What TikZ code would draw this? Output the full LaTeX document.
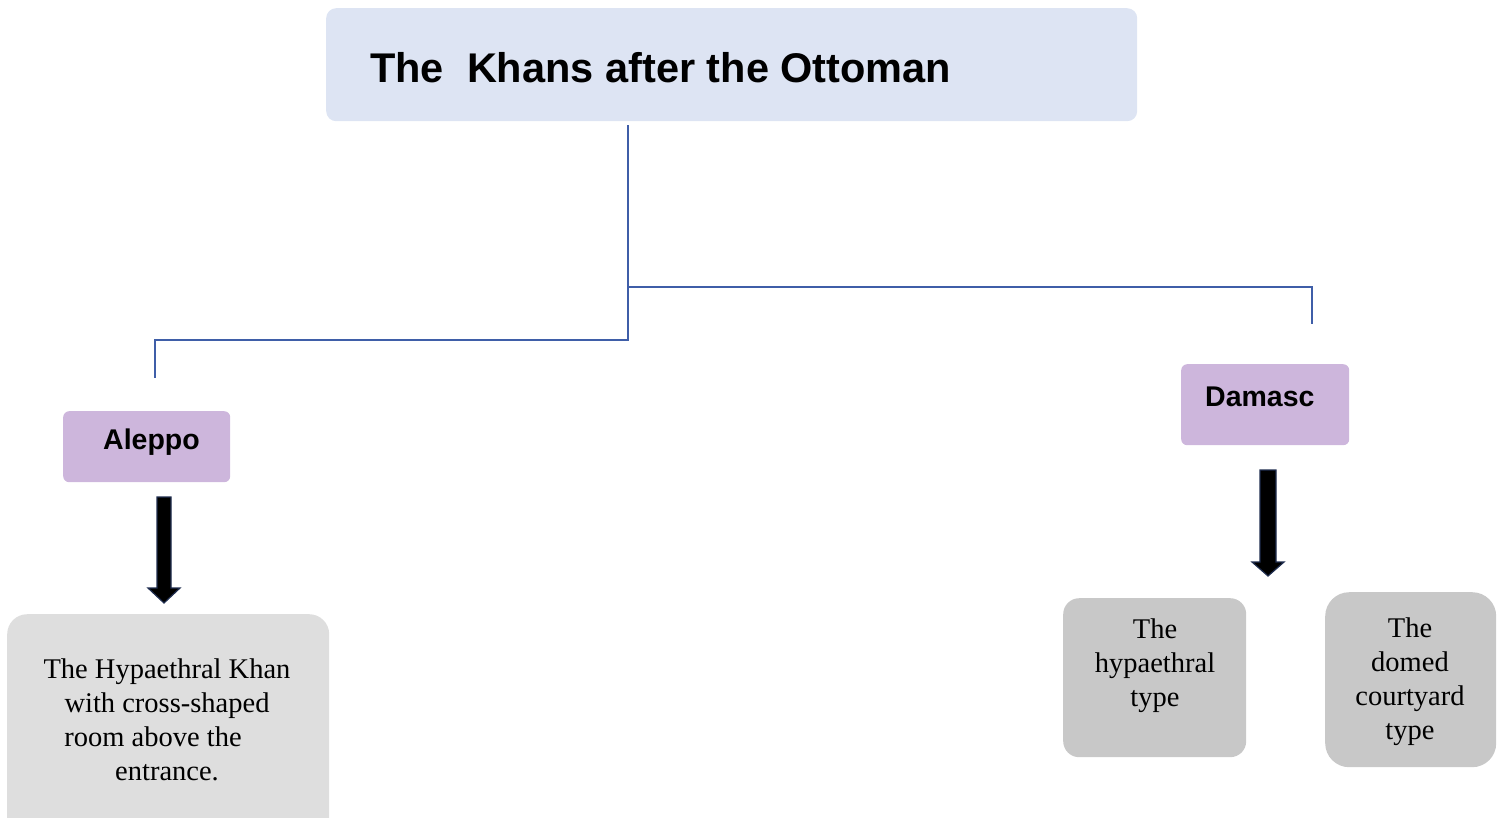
\documentclass[tikz,border=0pt]{standalone}
\usepackage{fontspec}
\setmainfont{Liberation Serif}
\newfontfamily\headfont{Liberation Sans}
\begin{document}
\begin{tikzpicture}[x=1pt,y=-1pt,
  box/.style={draw=none,rectangle,anchor=north west,inner sep=0pt},
  titlebox/.style={box,fill=titlefill,rounded corners=10pt},
  citybox/.style={box,fill=cityfill,rounded corners=6pt},
  notebox/.style={box,rounded corners=20pt},
  headtext/.style={anchor=base west,inner sep=0pt,font=\headfont\bfseries\fontsize{28.5}{34}\selectfont},
  bodytext/.style={align=center,inner sep=0pt,font=\fontsize{28.5}{34}\selectfont},
  link/.style={draw=linkblue,line width=2pt},
  blockarrow/.style={fill=black,draw=arrowedge,line width=1.2pt,line join=miter}]
\definecolor{titlefill}{HTML}{DDE4F3}
\definecolor{cityfill}{HTML}{CDB6DC}
\definecolor{lightgrey}{HTML}{DEDEDE}
\definecolor{midgrey}{HTML}{C8C8C8}
\definecolor{linkblue}{HTML}{3F5EA8}
\definecolor{arrowedge}{HTML}{1F2D4F}
\useasboundingbox (0,0) rectangle (1502,817);
\clip (0,0) rectangle (1502,817);

% title
\node[titlebox,minimum width=811pt,minimum height=113pt] (title) at (326,8) {};
\node[headtext,font=\headfont\bfseries\fontsize{41.5}{48}\selectfont] (titletext) at (370,82) {The\ \ Khans after the Ottoman};

% city boxes
\node[citybox,minimum width=167pt,minimum height=71pt] (aleppo) at (63,411) {};
\node[headtext] (aleppotext) at (103,449) {Aleppo};
\node[citybox,minimum width=168pt,minimum height=81pt] (damasc) at (1181,364) {};
\node[headtext] (damasctext) at (1205,406) {Damasc};

% tree connectors
\coordinate (trunk) at (628,125);
\coordinate (leftend) at (155,378);
\coordinate (rightend) at (1312,324);
\draw[link] (trunk) -- (628,340) -| (leftend);
\draw[link] (628,287) -| (rightend);

% type boxes
\node[notebox,fill=lightgrey,minimum width=322pt,minimum height=230pt] (khanbox) at (7,614) {};
\node[bodytext] (khantext) at (167,720) {The Hypaethral Khan\\with cross-shaped\\room above the\rule{28pt}{0pt}\\entrance.};
\node[notebox,fill=midgrey,rounded corners=16pt,minimum width=183pt,minimum height=159pt] (hypbox) at (1063,598) {};
\node[bodytext] (hyptext) at (1155,666) {The\\hypaethral\\type};
\node[notebox,fill=midgrey,rounded corners=24pt,minimum width=171pt,minimum height=175pt] (domebox) at (1325,592) {};
\node[bodytext] (dometext) at (1410,682) {The\\domed\\courtyard\\type};

% block arrows
\coordinate (aleppoarrow) at (164,497);
\coordinate (damascarrow) at (1268,470);
\draw[blockarrow,shift={(aleppoarrow)}] (-7,0) -- (7,0) -- (7,91) -- (16,91) -- (0,106) -- (-16,91) -- (-7,91) -- cycle;
\draw[blockarrow,shift={(damascarrow)}] (-8,0) -- (8,0) -- (8,92) -- (16,92) -- (0,106) -- (-16,92) -- (-8,92) -- cycle;
\end{tikzpicture}
\end{document}
